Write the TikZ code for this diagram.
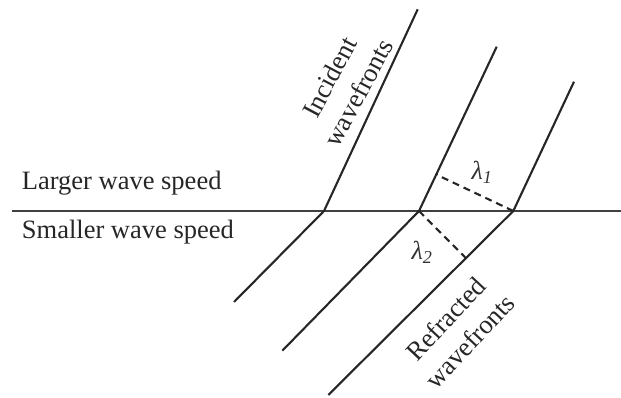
\documentclass[tikz,border=0pt]{standalone}
\usepackage{fontspec}
\setmainfont{Liberation Serif}
\usetikzlibrary{calc}
\begin{document}
\begin{tikzpicture}[x=1pt,y=-1pt,
  wave/.style={line width=2.1pt, draw=black!85},
  iface/.style={line width=2.7pt, draw=black!75},
  lam/.style={line width=2.1pt, draw=black!85, dash pattern=on 7pt off 5pt},
  lbl/.style={font=\fontsize{26.5}{33}\selectfont, text=black!85, inner sep=0pt},
  sym/.style={font=\fontsize{26}{30}\selectfont, text=black!80, inner sep=0pt}]
\useasboundingbox (0,0) rectangle (621,398);
\coordinate (L) at (11.7,211);
\coordinate (R) at (621,211);
\coordinate (T1) at (417.7,9.3);  \coordinate (A1) at (324,211);   \coordinate (B1) at (234,302);
\coordinate (T2) at (496.7,46.7); \coordinate (A2) at (419,211);   \coordinate (B2) at (282.3,350.7);
\coordinate (T3) at (574,81.7);   \coordinate (A3) at (513.3,211); \coordinate (B3) at (328.3,395);
\draw[iface] (L) -- (R);
\draw[wave] (T1) -- (A1) -- (B1);
\draw[wave] (T2) -- (A2) -- (B2);
\draw[wave] (T3) -- (A3) -- (B3);
\coordinate (F1) at ($(A2)!(A3)!(T2)$);
\coordinate (F2) at ($(A3)!(A2)!(B3)$);
\draw[lam] (A3) -- (F1);
\draw[lam] (A2) -- (F2);
\node[lbl, anchor=base west] (lg) at (21.7,190) {Larger wave speed};
\node[lbl, anchor=base west] (sm) at (21.7,239) {Smaller wave speed};
\node[lbl, rotate=62, align=center] (inc) at (344,85) {Incident\\wavefronts};
\node[lbl, rotate=47, align=center] (ref) at (458,330) {Refracted\\wavefronts};
\node[sym] (l1) at (482,172) {\itshape λ\textsubscript{1}};
\node[sym] (l2) at (422,252) {\itshape λ\textsubscript{2}};
\end{tikzpicture}
\end{document}
